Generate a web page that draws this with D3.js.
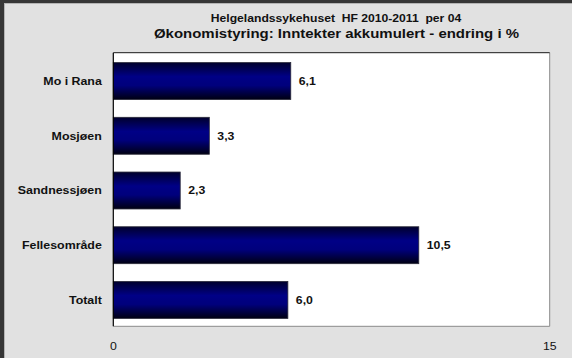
<!DOCTYPE html>
<html>
<head>
<meta charset="utf-8">
<script src="https://cdn.jsdelivr.net/npm/d3@7"></script>
<style>
  html, body { margin: 0; padding: 0; background: #e1e1e1; }
  svg { display: block; }
  text { font-family: "Liberation Sans", Arial, Helvetica, sans-serif; fill: #111; white-space: pre; }
</style>
</head>
<body>
<svg id="chart" width="572" height="358"></svg>
<script>
// Data
const categories = ["Mo i Rana", "Mosjøen", "Sandnessjøen", "Fellesområde", "Totalt"];
const values = [6.1, 3.3, 2.3, 10.5, 6.0];
const valueLabels = ["6,1", "3,3", "2,3", "10,5", "6,0"];
const xTicks = [0, 15];
const titleLines = ["Helgelandssykehuset  HF 2010-2011  per 04",
                    "Økonomistyring: Inntekter akkumulert - endring i %"];

const W = 572, H = 358;
const SX = 1.17; // the chart's lettering is set slightly wide
const plot = { left: 113.3, right: 549.7, top: 52.7, bottom: 326.3 };

const svg = d3.select("#chart");

// window background and frame
svg.append("rect").attr("width", W).attr("height", H).attr("fill", "#e1e1e1");
svg.append("rect").attr("x", 0).attr("y", 0).attr("width", W).attr("height", 3).attr("fill", "#363636");
svg.append("rect").attr("x", 0).attr("y", 0).attr("width", 4).attr("height", H).attr("fill", "#363636");
svg.append("rect").attr("x", 4).attr("y", 3).attr("width", W - 4).attr("height", 1).attr("fill", "#b4b4b4");
svg.append("rect").attr("x", 4).attr("y", 3).attr("width", 1).attr("height", H - 3).attr("fill", "#b4b4b4");

// gradient used for the bars
const defs = svg.append("defs");
const grad = defs.append("linearGradient").attr("id", "barFill")
  .attr("x1", 0).attr("y1", 0).attr("x2", 0).attr("y2", 1);
[[0, "#00002c"], [0.38, "#000086"], [0.62, "#00007c"], [1, "#000012"]].forEach(([o, c]) =>
  grad.append("stop").attr("offset", o).attr("stop-color", c));

// scales
const x = d3.scaleLinear().domain([0, 15]).range([plot.left, plot.right]);
const y = d3.scaleBand().domain(categories)
  .range([plot.top + 1, plot.bottom + 1])
  .paddingInner(0.325).paddingOuter(0.1625);

// text helper: anchored at (px, py), stretched horizontally
function label(g, px, py, str, size, weight, anchor) {
  return g.append("text")
    .attr("xml:space", "preserve")
    .attr("transform", `translate(${px},${py}) scale(${SX},1)`)
    .attr("text-anchor", anchor)
    .style("font-size", size + "px")
    .style("font-weight", weight)
    .text(str);
}

// titles
label(svg, 336, 22.3, titleLines[0], 10.4, "bold", "middle");
label(svg, 336.5, 38, titleLines[1], 12.8, "bold", "middle");

// plot area
svg.append("rect")
  .attr("x", plot.left).attr("y", plot.top)
  .attr("width", plot.right - plot.left).attr("height", plot.bottom - plot.top)
  .attr("fill", "#ffffff");
// right and bottom border (grey), top border (dark)
svg.append("line").attr("x1", plot.right).attr("x2", plot.right)
  .attr("y1", plot.top).attr("y2", plot.bottom).attr("stroke", "#8a8a8a").attr("stroke-width", 1);
svg.append("line").attr("x1", plot.left).attr("x2", plot.right)
  .attr("y1", plot.bottom).attr("y2", plot.bottom).attr("stroke", "#8a8a8a").attr("stroke-width", 1);
svg.append("line").attr("x1", plot.left).attr("x2", plot.right)
  .attr("y1", plot.top).attr("y2", plot.top).attr("stroke", "#1a1a1a").attr("stroke-width", 1);

// bars
const rows = categories.map((c, i) => ({ cat: c, v: values[i], lbl: valueLabels[i] }));
const barG = svg.append("g");
barG.selectAll("rect.bar").data(rows).enter().append("rect")
  .attr("class", "bar")
  .attr("x", x(0))
  .attr("y", d => y(d.cat))
  .attr("width", d => x(d.v) - x(0))
  .attr("height", y.bandwidth())
  .attr("fill", "url(#barFill)")
  .attr("stroke", "#2a2a3a")
  .attr("stroke-width", 0.8);

// value labels
rows.forEach(d => {
  label(barG, x(d.v) + 8, y(d.cat) + y.bandwidth() / 2 + 3.8, d.lbl, 10.5, "bold", "start");
});

// category axis
const yAxisG = svg.append("g");
yAxisG.append("line").attr("x1", plot.left).attr("x2", plot.left)
  .attr("y1", plot.top).attr("y2", plot.bottom).attr("stroke", "#000").attr("stroke-width", 1.2);
categories.forEach(c => {
  label(yAxisG, plot.left - 11.5, y(c) + y.bandwidth() / 2 + 3.8, c, 10.6, "bold", "end");
});

// value axis tick labels
const xAxisG = svg.append("g");
xTicks.forEach(t => {
  label(xAxisG, x(t), 349.5, String(t), 10.5, "normal", "middle");
});
</script>
</body>
</html>
